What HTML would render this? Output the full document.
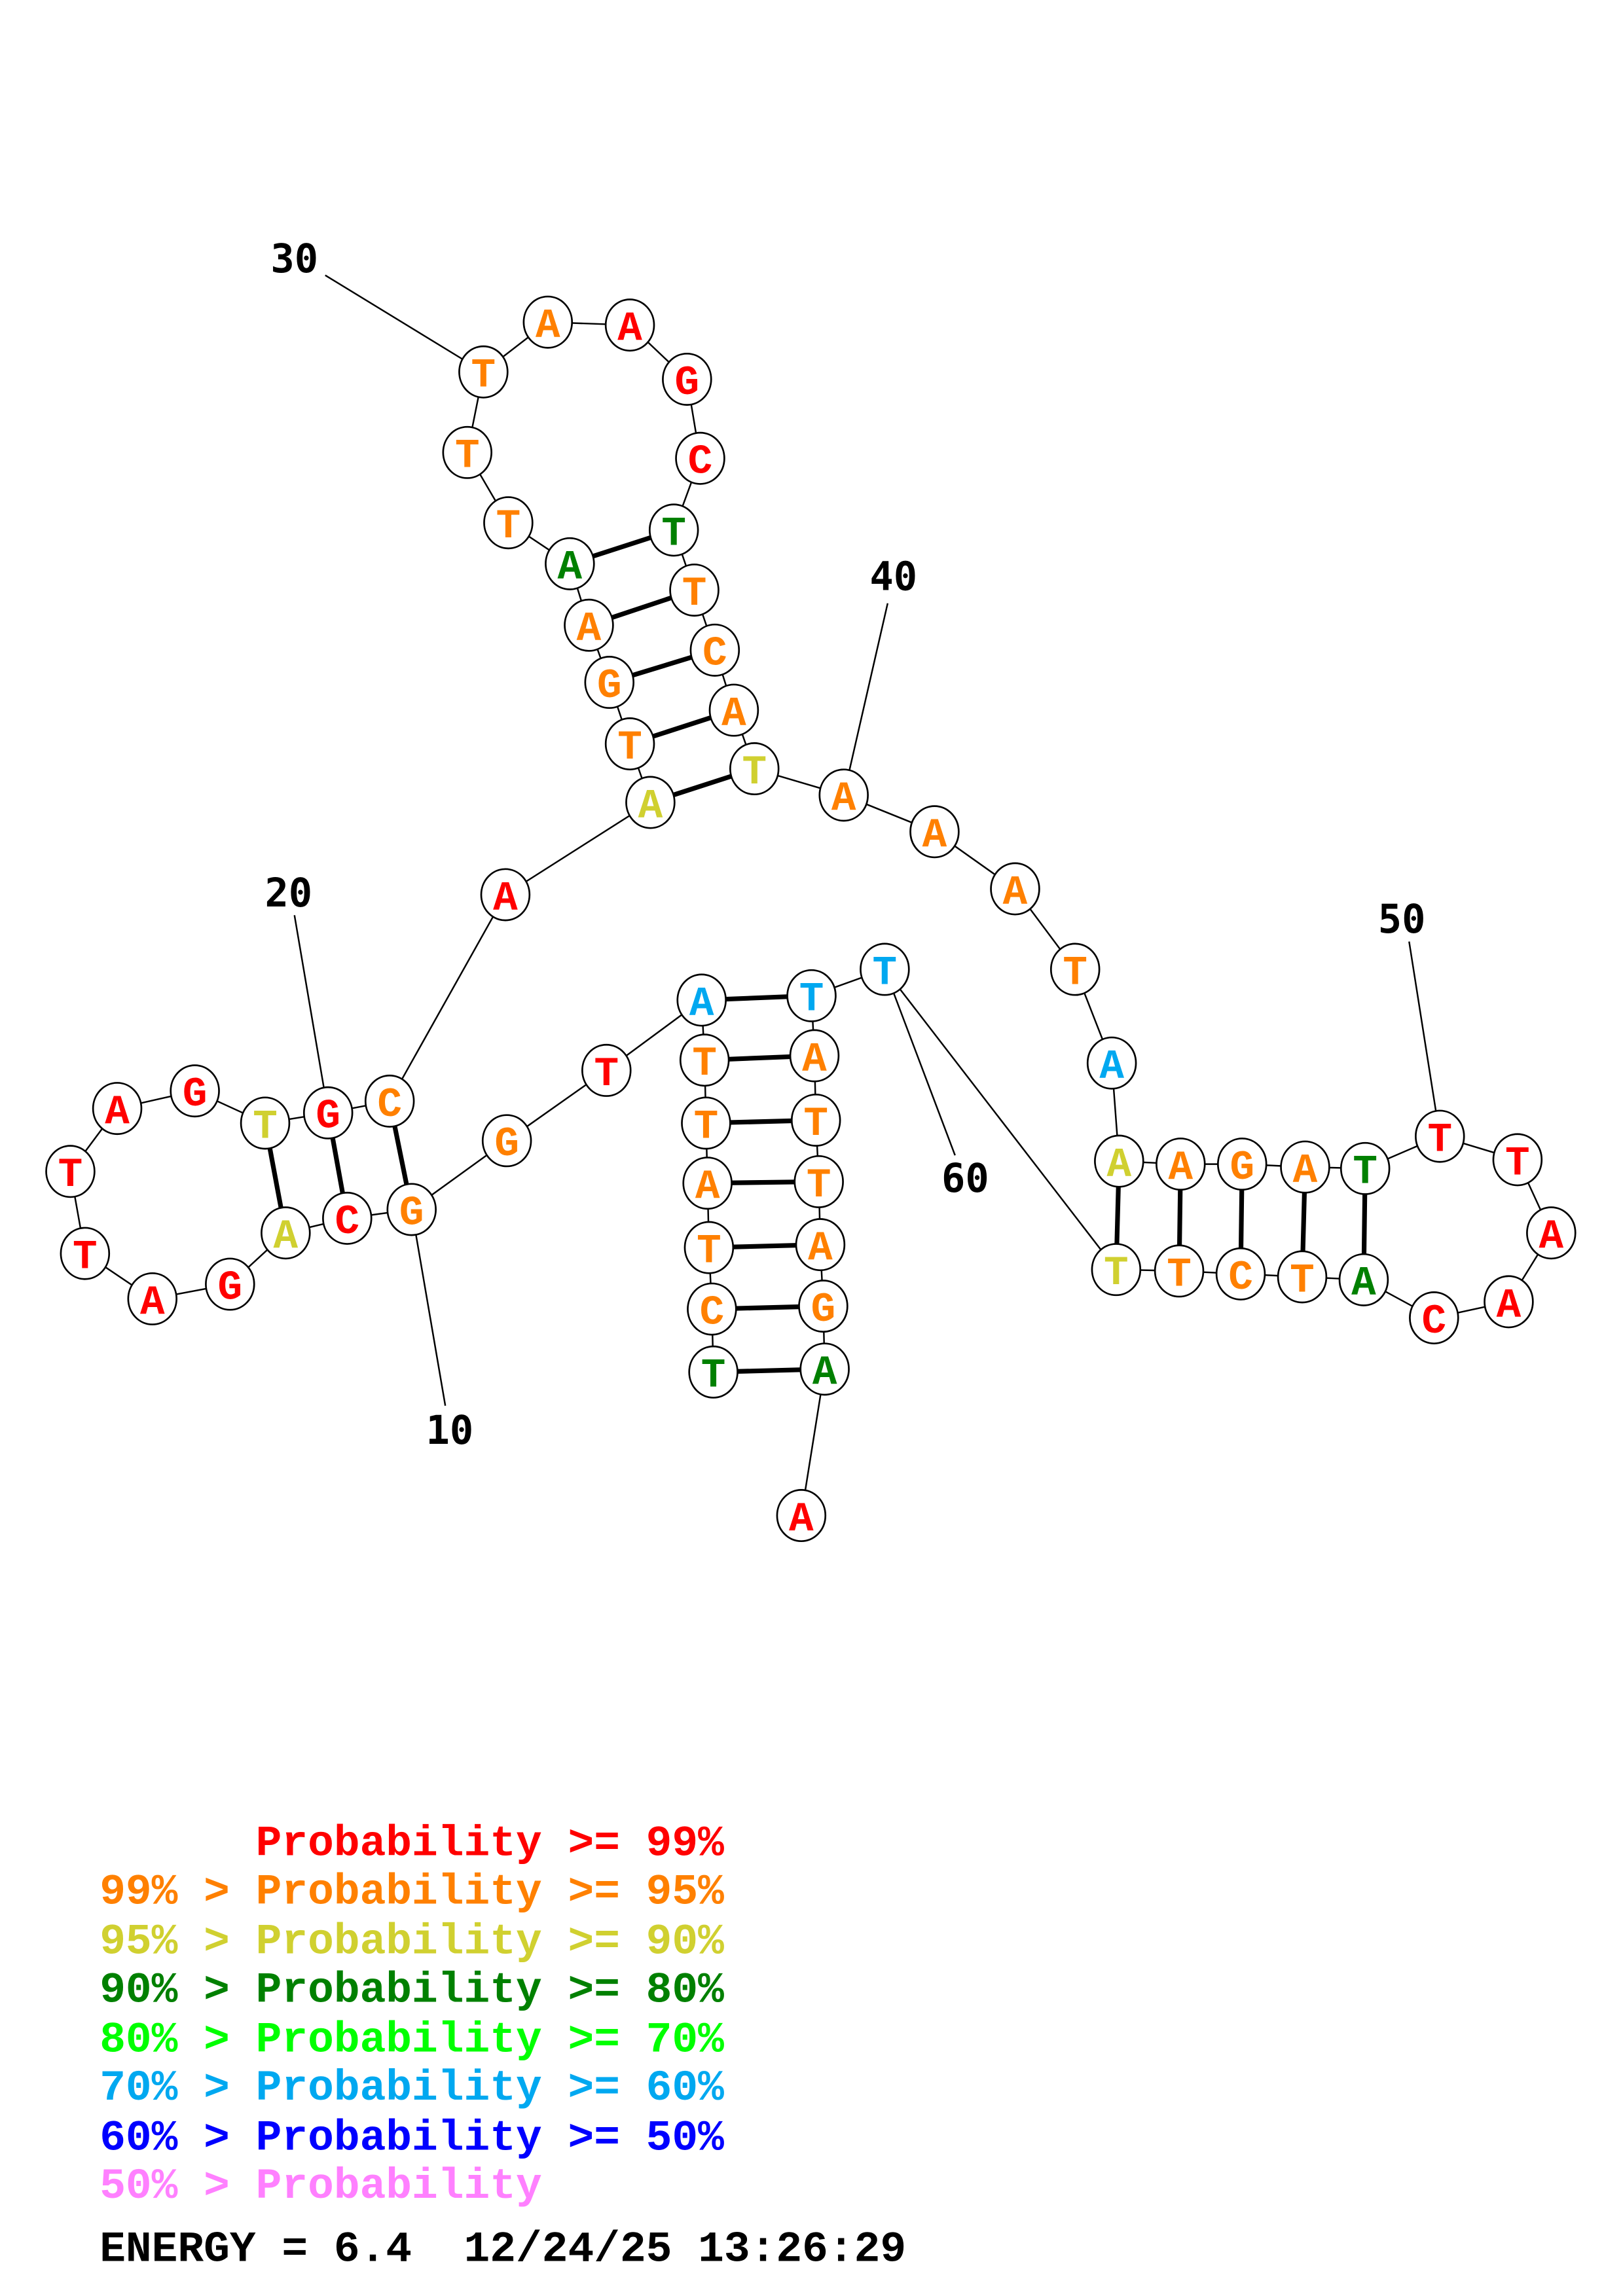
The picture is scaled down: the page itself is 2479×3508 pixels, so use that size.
<!DOCTYPE html>
<html><head><meta charset="utf-8"><style>html,body{margin:0;padding:0;background:#fff}svg{display:block}</style></head>
<body>
<svg xmlns="http://www.w3.org/2000/svg" width="2479" height="3508" viewBox="0 0 1108 1568">
<rect width="1108" height="1568" fill="#fff"/>
<g stroke="#000" stroke-width="1.1" fill="none">
<polyline points="487,937 486,894 484,852 483,808 482,767 481,724 479,683 414,731 346,779 281,826 237,832 195,842 157,877 104,887 58,856 48,800 80,757 133,745 181,767 224,760 266,752 345,611 444,548 430,508 416,466 402,427 389,385 347,357 319,309 330,254 374,220 430,222 469,259 478,313 460,362 474,403 488,444 501,485 515,525 576,543 638,568 693,607 734,662 759,726 764,793 806,795 848,795 891,797 932,798 983,776 1036,792 1059,842 1030,889 979,900 931,874 889,872 847,870 805,868 762,867 604,662 554,680 556,721 557,765 559,807 560,850 562,892 563,935 547,1035"/>
<line x1="222" y1="188" x2="330" y2="254"/>
<line x1="201" y1="625" x2="224" y2="760"/>
<line x1="304" y1="960" x2="281" y2="826"/>
<line x1="606" y1="412" x2="576" y2="543"/>
<line x1="962" y1="643" x2="983" y2="776"/>
<line x1="652" y1="789" x2="604" y2="662"/>
</g>
<g stroke="#000" stroke-width="3.2">
<line x1="281" y1="826" x2="266" y2="752"/>
<line x1="237" y1="832" x2="224" y2="760"/>
<line x1="195" y1="842" x2="181" y2="767"/>
<line x1="444" y1="548" x2="515" y2="525"/>
<line x1="430" y1="508" x2="501" y2="485"/>
<line x1="416" y1="466" x2="488" y2="444"/>
<line x1="402" y1="427" x2="474" y2="403"/>
<line x1="389" y1="385" x2="460" y2="362"/>
<line x1="764" y1="793" x2="762" y2="867"/>
<line x1="806" y1="795" x2="805" y2="868"/>
<line x1="848" y1="795" x2="847" y2="870"/>
<line x1="891" y1="797" x2="889" y2="872"/>
<line x1="932" y1="798" x2="931" y2="874"/>
<line x1="487" y1="937" x2="563" y2="935"/>
<line x1="486" y1="894" x2="562" y2="892"/>
<line x1="484" y1="852" x2="560" y2="850"/>
<line x1="483" y1="808" x2="559" y2="807"/>
<line x1="482" y1="767" x2="557" y2="765"/>
<line x1="481" y1="724" x2="556" y2="721"/>
<line x1="479" y1="683" x2="554" y2="680"/>
</g>
<g fill="#fff" stroke="#000" stroke-width="1.2">
<ellipse cx="487" cy="937" rx="16.5" ry="17.5"/><ellipse cx="486" cy="894" rx="16.5" ry="17.5"/><ellipse cx="484" cy="852" rx="16.5" ry="17.5"/><ellipse cx="483" cy="808" rx="16.5" ry="17.5"/><ellipse cx="482" cy="767" rx="16.5" ry="17.5"/><ellipse cx="481" cy="724" rx="16.5" ry="17.5"/><ellipse cx="479" cy="683" rx="16.5" ry="17.5"/><ellipse cx="414" cy="731" rx="16.5" ry="17.5"/><ellipse cx="346" cy="779" rx="16.5" ry="17.5"/><ellipse cx="281" cy="826" rx="16.5" ry="17.5"/><ellipse cx="237" cy="832" rx="16.5" ry="17.5"/><ellipse cx="195" cy="842" rx="16.5" ry="17.5"/><ellipse cx="157" cy="877" rx="16.5" ry="17.5"/><ellipse cx="104" cy="887" rx="16.5" ry="17.5"/><ellipse cx="58" cy="856" rx="16.5" ry="17.5"/><ellipse cx="48" cy="800" rx="16.5" ry="17.5"/><ellipse cx="80" cy="757" rx="16.5" ry="17.5"/><ellipse cx="133" cy="745" rx="16.5" ry="17.5"/><ellipse cx="181" cy="767" rx="16.5" ry="17.5"/><ellipse cx="224" cy="760" rx="16.5" ry="17.5"/><ellipse cx="266" cy="752" rx="16.5" ry="17.5"/><ellipse cx="345" cy="611" rx="16.5" ry="17.5"/><ellipse cx="444" cy="548" rx="16.5" ry="17.5"/><ellipse cx="430" cy="508" rx="16.5" ry="17.5"/><ellipse cx="416" cy="466" rx="16.5" ry="17.5"/><ellipse cx="402" cy="427" rx="16.5" ry="17.5"/><ellipse cx="389" cy="385" rx="16.5" ry="17.5"/><ellipse cx="347" cy="357" rx="16.5" ry="17.5"/><ellipse cx="319" cy="309" rx="16.5" ry="17.5"/><ellipse cx="330" cy="254" rx="16.5" ry="17.5"/><ellipse cx="374" cy="220" rx="16.5" ry="17.5"/><ellipse cx="430" cy="222" rx="16.5" ry="17.5"/><ellipse cx="469" cy="259" rx="16.5" ry="17.5"/><ellipse cx="478" cy="313" rx="16.5" ry="17.5"/><ellipse cx="460" cy="362" rx="16.5" ry="17.5"/><ellipse cx="474" cy="403" rx="16.5" ry="17.5"/><ellipse cx="488" cy="444" rx="16.5" ry="17.5"/><ellipse cx="501" cy="485" rx="16.5" ry="17.5"/><ellipse cx="515" cy="525" rx="16.5" ry="17.5"/><ellipse cx="576" cy="543" rx="16.5" ry="17.5"/><ellipse cx="638" cy="568" rx="16.5" ry="17.5"/><ellipse cx="693" cy="607" rx="16.5" ry="17.5"/><ellipse cx="734" cy="662" rx="16.5" ry="17.5"/><ellipse cx="759" cy="726" rx="16.5" ry="17.5"/><ellipse cx="764" cy="793" rx="16.5" ry="17.5"/><ellipse cx="806" cy="795" rx="16.5" ry="17.5"/><ellipse cx="848" cy="795" rx="16.5" ry="17.5"/><ellipse cx="891" cy="797" rx="16.5" ry="17.5"/><ellipse cx="932" cy="798" rx="16.5" ry="17.5"/><ellipse cx="983" cy="776" rx="16.5" ry="17.5"/><ellipse cx="1036" cy="792" rx="16.5" ry="17.5"/><ellipse cx="1059" cy="842" rx="16.5" ry="17.5"/><ellipse cx="1030" cy="889" rx="16.5" ry="17.5"/><ellipse cx="979" cy="900" rx="16.5" ry="17.5"/><ellipse cx="931" cy="874" rx="16.5" ry="17.5"/><ellipse cx="889" cy="872" rx="16.5" ry="17.5"/><ellipse cx="847" cy="870" rx="16.5" ry="17.5"/><ellipse cx="805" cy="868" rx="16.5" ry="17.5"/><ellipse cx="762" cy="867" rx="16.5" ry="17.5"/><ellipse cx="604" cy="662" rx="16.5" ry="17.5"/><ellipse cx="554" cy="680" rx="16.5" ry="17.5"/><ellipse cx="556" cy="721" rx="16.5" ry="17.5"/><ellipse cx="557" cy="765" rx="16.5" ry="17.5"/><ellipse cx="559" cy="807" rx="16.5" ry="17.5"/><ellipse cx="560" cy="850" rx="16.5" ry="17.5"/><ellipse cx="562" cy="892" rx="16.5" ry="17.5"/><ellipse cx="563" cy="935" rx="16.5" ry="17.5"/><ellipse cx="547" cy="1035" rx="16.5" ry="17.5"/>
</g>
<g font-family="'Liberation Mono', monospace" font-weight="bold" font-size="28" text-anchor="middle">
<text x="487" y="947" fill="#008000">T</text><text x="486" y="904" fill="#ff8000">C</text><text x="484" y="862" fill="#ff8000">T</text><text x="483" y="818" fill="#ff8000">A</text><text x="482" y="777" fill="#ff8000">T</text><text x="481" y="734" fill="#ff8000">T</text><text x="479" y="693" fill="#00a8f0">A</text><text x="414" y="741" fill="#ff0000">T</text><text x="346" y="789" fill="#ff8000">G</text><text x="281" y="836" fill="#ff8000">G</text><text x="237" y="842" fill="#ff0000">C</text><text x="195" y="852" fill="#d0d030">A</text><text x="157" y="887" fill="#ff0000">G</text><text x="104" y="897" fill="#ff0000">A</text><text x="58" y="866" fill="#ff0000">T</text><text x="48" y="810" fill="#ff0000">T</text><text x="80" y="767" fill="#ff0000">A</text><text x="133" y="755" fill="#ff0000">G</text><text x="181" y="777" fill="#d0d030">T</text><text x="224" y="770" fill="#ff0000">G</text><text x="266" y="762" fill="#ff8000">C</text><text x="345" y="621" fill="#ff0000">A</text><text x="444" y="558" fill="#d0d030">A</text><text x="430" y="518" fill="#ff8000">T</text><text x="416" y="476" fill="#ff8000">G</text><text x="402" y="437" fill="#ff8000">A</text><text x="389" y="395" fill="#008000">A</text><text x="347" y="367" fill="#ff8000">T</text><text x="319" y="319" fill="#ff8000">T</text><text x="330" y="264" fill="#ff8000">T</text><text x="374" y="230" fill="#ff8000">A</text><text x="430" y="232" fill="#ff0000">A</text><text x="469" y="269" fill="#ff0000">G</text><text x="478" y="323" fill="#ff0000">C</text><text x="460" y="372" fill="#008000">T</text><text x="474" y="413" fill="#ff8000">T</text><text x="488" y="454" fill="#ff8000">C</text><text x="501" y="495" fill="#ff8000">A</text><text x="515" y="535" fill="#d0d030">T</text><text x="576" y="553" fill="#ff8000">A</text><text x="638" y="578" fill="#ff8000">A</text><text x="693" y="617" fill="#ff8000">A</text><text x="734" y="672" fill="#ff8000">T</text><text x="759" y="736" fill="#00a8f0">A</text><text x="764" y="803" fill="#d0d030">A</text><text x="806" y="805" fill="#ff8000">A</text><text x="848" y="805" fill="#ff8000">G</text><text x="891" y="807" fill="#ff8000">A</text><text x="932" y="808" fill="#008000">T</text><text x="983" y="786" fill="#ff0000">T</text><text x="1036" y="802" fill="#ff0000">T</text><text x="1059" y="852" fill="#ff0000">A</text><text x="1030" y="899" fill="#ff0000">A</text><text x="979" y="910" fill="#ff0000">C</text><text x="931" y="884" fill="#008000">A</text><text x="889" y="882" fill="#ff8000">T</text><text x="847" y="880" fill="#ff8000">C</text><text x="805" y="878" fill="#ff8000">T</text><text x="762" y="877" fill="#d0d030">T</text><text x="604" y="672" fill="#00a8f0">T</text><text x="554" y="690" fill="#00a8f0">T</text><text x="556" y="731" fill="#ff8000">A</text><text x="557" y="775" fill="#ff8000">T</text><text x="559" y="817" fill="#ff8000">T</text><text x="560" y="860" fill="#ff8000">A</text><text x="562" y="902" fill="#ff8000">G</text><text x="563" y="945" fill="#008000">A</text><text x="547" y="1045" fill="#ff0000">A</text>
</g>
<g font-family="'DejaVu Sans Mono', 'Liberation Mono', monospace" font-weight="bold" font-size="27" text-anchor="middle" fill="#000">
<text x="201" y="186">30</text><text x="197" y="619">20</text><text x="307" y="986">10</text><text x="610" y="403">40</text><text x="957" y="637">50</text><text x="659" y="814">60</text>
</g>
<g font-family="'Liberation Mono', monospace" font-weight="bold" font-size="29.6">
<text x="68" y="1267" fill="#ff0000">&#160;&#160;&#160;&#160;&#160;&#160;Probability &gt;= 99%</text>
<text x="68" y="1300" fill="#ff8000">99% &gt; Probability &gt;= 95%</text>
<text x="68" y="1334" fill="#d0d030">95% &gt; Probability &gt;= 90%</text>
<text x="68" y="1367" fill="#008000">90% &gt; Probability &gt;= 80%</text>
<text x="68" y="1401" fill="#00ff00">80% &gt; Probability &gt;= 70%</text>
<text x="68" y="1434" fill="#00a8f0">70% &gt; Probability &gt;= 60%</text>
<text x="68" y="1468" fill="#0000ff">60% &gt; Probability &gt;= 50%</text>
<text x="68" y="1501" fill="#ff80ff">50% &gt; Probability</text>
<text x="68" y="1544" fill="#000">ENERGY = 6.4&#160;&#160;12/24/25 13:26:29</text>
</g>
</svg>
</body></html>
